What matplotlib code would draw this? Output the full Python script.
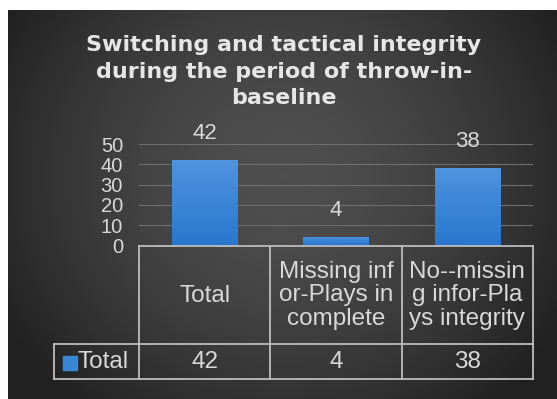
import numpy as np
import matplotlib
matplotlib.use("Agg")
import matplotlib.pyplot as plt

# --- data -----------------------------------------------------------------
categories = ["Total", "Missing inf\nor-Plays in\ncomplete", "No--missin\ng infor-Pla\nys integrity"]
values = [42, 4, 38]
series_name = "Total"
title_lines = ["Switching and tactical integrity", "during the period of throw-in-", "baseline"]
y_ticks = [0, 10, 20, 30, 40, 50]

W, H = 557, 399
DPI = 100
fig = plt.figure(figsize=(W / DPI, H / DPI), dpi=DPI, facecolor="white")

def fx(px):
    return px / W

def fy(py):
    return 1 - py / H

# dark vignette background panel
bg = fig.add_axes([fx(8), 0, 1 - fx(8), fy(10)])
bg.set_axis_off()
gx = np.linspace(-1, 1, 400)
gy = np.linspace(-1, 1, 300)
GX, GY = np.meshgrid(gx, gy)
r = np.sqrt((GX * 1.0) ** 2 + ((GY + 0.15) * 0.75) ** 2)
shade = np.clip(0.31 - 0.14 * r ** 1.6, 0.13, 0.31)
bg.imshow(np.dstack([shade, shade, shade]), aspect="auto", extent=[0, 1, 0, 1],
          interpolation="bilinear")
bg.set_xlim(0, 1)
bg.set_ylim(0, 1)

text_col = "#d8d8d8"
line_col = "#bdbdbd"
bar_col = "#3887d5"

# --- bar chart ------------------------------------------------------------
left_px, right_px, top_px, zero_px = 139, 533, 144, 245.5
ax = fig.add_axes([fx(left_px), fy(zero_px), fx(right_px - left_px), (zero_px - top_px) / H])
ax.patch.set_alpha(0)
x = np.arange(len(categories))
bars = ax.bar(x, values, width=0.5, color=bar_col, zorder=3)

# vertical gradient on each bar
grad = np.linspace(0, 1, 100).reshape(-1, 1)
top_c = np.array([0.31, 0.58, 0.87])
bot_c = np.array([0.16, 0.47, 0.81])
grad_img = bot_c[None, None, :] * (1 - grad[..., None]) + top_c[None, None, :] * grad[..., None]
for b in bars:
    bx, bw, bh = b.get_x(), b.get_width(), b.get_height()
    im = ax.imshow(grad_img, extent=[bx, bx + bw, 0, bh], origin="lower",
                   aspect="auto", zorder=4)
    im.set_clip_path(b)

ax.set_xlim(-0.5, len(categories) - 0.5)
ax.set_ylim(0, 50)
ax.set_yticks(y_ticks)
ax.set_yticklabels([str(t) for t in y_ticks], family="Liberation Sans",
                   fontsize=14.5, color=text_col)
ax.tick_params(axis="y", length=0, pad=11.5)
ax.set_xticks([])
ax.grid(axis="y", color="#6e6e6e", linewidth=0.8, zorder=0)
for s in ax.spines.values():
    s.set_visible(False)

for xi, v in zip(x, values):
    ax.annotate(str(v), (xi, v), xytext=(0, 19.5), textcoords="offset points",
                ha="center", va="center", fontsize=16, color=text_col,
                family="Liberation Sans", zorder=5)

# --- data table under the axis ----------------------------------------------
ov = fig.add_axes([0, 0, 1, 1])
ov.set_axis_off()
ov.set_xlim(0, W)
ov.set_ylim(H, 0)
ov.patch.set_alpha(0)

def data_to_px(xd):
    disp = ax.transData.transform((xd, 0))
    return disp[0] * W / fig.bbox.width

edges = [data_to_px(i - 0.5) for i in range(len(categories) + 1)]
row_top, row_mid, row_bot = 245.5, 343.5, 379
legend_left = 54

lk = dict(color=line_col, linewidth=1.3, solid_capstyle="projecting")
ov.plot([edges[0], edges[-1]], [row_top, row_top], **lk)
ov.plot([legend_left, edges[-1]], [row_mid, row_mid], **lk)
ov.plot([legend_left, edges[-1]], [row_bot, row_bot], **lk)
for e in edges:
    ov.plot([e, e], [row_top, row_bot], **lk)
ov.plot([legend_left, legend_left], [row_mid, row_bot], **lk)

cell_font = dict(family="Liberation Sans", fontsize=17.5, color=text_col)
for i, cat in enumerate(categories):
    cx = (edges[i] + edges[i + 1]) / 2
    ov.text(cx, (row_top + row_mid) / 2 + 1, cat, ha="center", va="center",
            multialignment="center", linespacing=1.08, **cell_font)
    ov.text(cx, (row_mid + row_bot) / 2 + 1, str(values[i]), ha="center",
            va="center", **cell_font)

# legend key in the row header
sq = 14
ov.add_patch(plt.Rectangle((63, 355.5), sq, sq, color=bar_col))
ov.text(77, (row_mid + row_bot) / 2 + 1, series_name, ha="left", va="center", **cell_font)

# --- title ----------------------------------------------------------------
for i, line in enumerate(title_lines):
    ov.text(284, 51 + i * 26.5, line, ha="center", va="baseline",
            family="DejaVu Sans", fontweight="bold", fontsize=16, color="#e6e6e6")

fig.savefig("out.png", dpi=DPI, facecolor="white")
